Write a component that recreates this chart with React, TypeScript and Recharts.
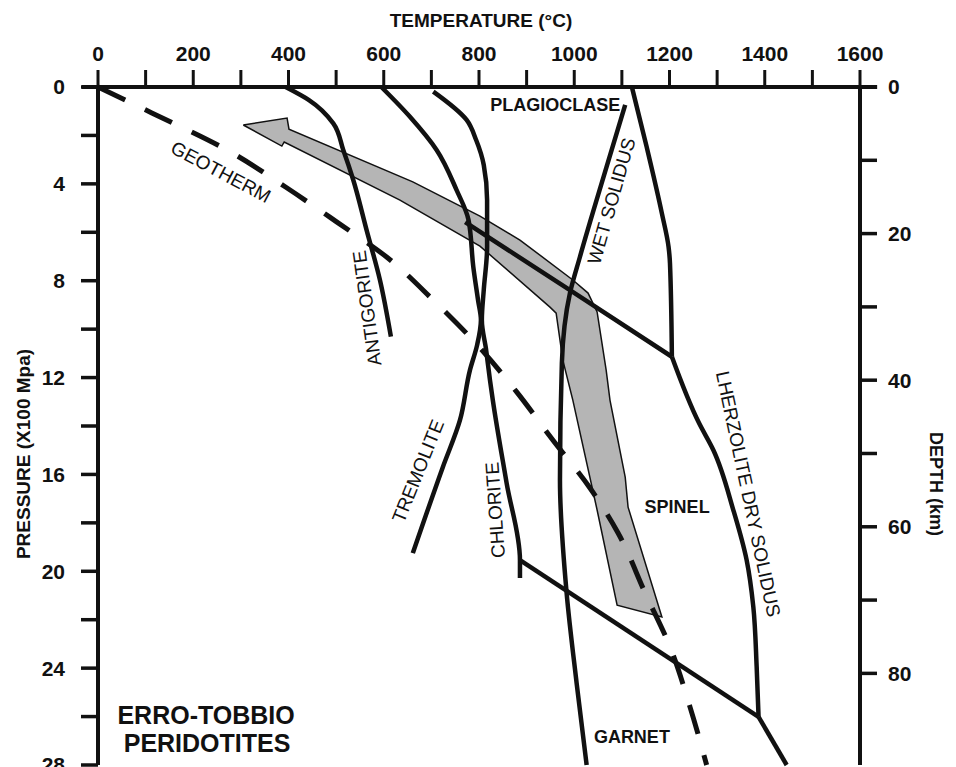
import React from 'react';
import { ReferenceLine, Scatter, ScatterChart, XAxis, YAxis } from 'recharts';

type Pt = { t: number; p: number };
type Note = { t: number; p: number; text: string; angle: number; kind: 'field' | 'line' | 'big' };

// axis ticks
const tempTicks = [0, 100, 200, 300, 400, 500, 600, 700, 800, 900, 1000, 1100, 1200, 1300, 1400, 1500, 1600];
const pressureTicks = [0, 2, 4, 6, 8, 10, 12, 14, 16, 18, 20, 22, 24, 26, 28];
const depthTicks = [0, 10, 20, 30, 40, 50, 60, 70, 80];

// temperature (°C) vs pressure (x100 MPa)
const geotherm: Pt[] = [
  { t: 0, p: 0 }, { t: 113, p: 1.07 }, { t: 277, p: 2.67 }, { t: 393, p: 4.12 },
  { t: 501, p: 5.57 }, { t: 606, p: 7.02 }, { t: 704, p: 8.8 }, { t: 787, p: 10.45 },
  { t: 879, p: 12.59 }, { t: 955, p: 14.58 }, { t: 1033, p: 16.56 }, { t: 1092, p: 18.42 },
  { t: 1149, p: 20.9 }, { t: 1201, p: 23.12 }, { t: 1243, p: 25.6 }, { t: 1278, p: 28 },
];

const antigorite: Pt[] = [
  { t: 394, p: 0 }, { t: 443, p: 0.54 }, { t: 494, p: 1.5 }, { t: 515, p: 2.6 },
  { t: 536, p: 3.84 }, { t: 564, p: 5.91 }, { t: 592, p: 7.97 }, { t: 615, p: 10.31 },
];

const tremolite: Pt[] = [
  { t: 595, p: 0 }, { t: 655, p: 1.23 }, { t: 711, p: 2.6 }, { t: 753, p: 4.26 },
  { t: 778, p: 5.49 }, { t: 788, p: 7.42 }, { t: 798, p: 8.8 }, { t: 804, p: 9.62 },
  { t: 796, p: 10.66 }, { t: 781, p: 11.69 }, { t: 760, p: 13.76 }, { t: 724, p: 15.7 },
  { t: 661, p: 19.25 },
];

const chlorite: Pt[] = [
  { t: 704, p: 0.19 }, { t: 774, p: 1.36 }, { t: 794, p: 2.19 }, { t: 810, p: 3.22 },
  { t: 817, p: 4.67 }, { t: 817, p: 6.61 }, { t: 810, p: 8.38 }, { t: 806, p: 9.62 },
  { t: 815, p: 10.86 }, { t: 823, p: 12.1 }, { t: 829, p: 12.93 }, { t: 858, p: 16.36 },
  { t: 886, p: 19.54 }, { t: 886, p: 20.28 },
];

const wetSolidus: Pt[] = [
  { t: 1107, p: 0.74 }, { t: 1068, p: 3.29 }, { t: 1012, p: 7.01 }, { t: 991, p: 8.51 },
  { t: 974, p: 11.4 }, { t: 970, p: 16.23 }, { t: 984, p: 20.9 }, { t: 1005, p: 24.62 },
  { t: 1026, p: 28 },
];

const drySolidusUpper: Pt[] = [
  { t: 1121, p: 0 }, { t: 1152, p: 2.47 }, { t: 1184, p: 5.22 }, { t: 1198, p: 6.6 },
  { t: 1201, p: 7.28 }, { t: 1205, p: 11.14 },
];

const drySolidusLower: Pt[] = [
  { t: 1205, p: 11.14 }, { t: 1262, p: 13.88 }, { t: 1292, p: 14.99 }, { t: 1334, p: 17.47 },
  { t: 1362, p: 19.54 }, { t: 1376, p: 21.47 }, { t: 1383, p: 23.94 }, { t: 1387, p: 26.01 },
];

const drySolidusTail: Pt[] = [
  { t: 1387, p: 26.01 }, { t: 1446, p: 28 },
];

const plagioclaseSpinel: Pt[] = [
  { t: 771, p: 5.58 }, { t: 991, p: 8.39 }, { t: 1205, p: 11.14 },
];

const spinelGarnet: Pt[] = [
  { t: 886, p: 19.54 }, { t: 1387, p: 26.01 },
];

// shaded P-T path arrow outline (closed)
const ptPath: Pt[] = [
  { t: 305, p: 1.57 }, { t: 397, p: 1.28 }, { t: 401, p: 1.74 }, { t: 661, p: 3.92 },
  { t: 802, p: 5.33 }, { t: 886, p: 6.32 }, { t: 997, p: 7.97 }, { t: 1029, p: 8.51 },
  { t: 1048, p: 9.29 }, { t: 1067, p: 11.69 }, { t: 1075, p: 12.93 }, { t: 1107, p: 16.11 },
  { t: 1113, p: 17.35 }, { t: 1184, p: 21.89 }, { t: 1090, p: 21.4 }, { t: 1048, p: 17.47 },
  { t: 997, p: 12.93 }, { t: 976, p: 11.28 }, { t: 962, p: 9.34 }, { t: 949, p: 9.09 },
  { t: 802, p: 6.57 }, { t: 634, p: 4.67 }, { t: 391, p: 2.27 }, { t: 386, p: 2.44 },
  { t: 305, p: 1.57 },
];

const notes: Note[] = [
  { t: 960, p: 0.74, text: 'PLAGIOCLASE', angle: 0, kind: 'field' },
  { t: 258, p: 3.51, text: 'GEOTHERM', angle: 28, kind: 'line' },
  { t: 565, p: 9.13, text: 'ANTIGORITE', angle: -98, kind: 'line' },
  { t: 672, p: 15.86, text: 'TREMOLITE', angle: -68, kind: 'line' },
  { t: 834, p: 17.47, text: 'CHLORITE', angle: -94, kind: 'line' },
  { t: 1078, p: 4.71, text: 'WET SOLIDUS', angle: -74, kind: 'line' },
  { t: 1365, p: 16.81, text: 'LHERZOLITE DRY SOLIDUS', angle: 78, kind: 'line' },
  { t: 1216, p: 17.35, text: 'SPINEL', angle: 0, kind: 'field' },
  { t: 1121, p: 26.85, text: 'GARNET', angle: 0, kind: 'field' },
  { t: 227, p: 25.94, text: 'ERRO-TOBBIO', angle: 0, kind: 'big' },
  { t: 229, p: 27.1, text: 'PERIDOTITES', angle: 0, kind: 'big' },
];

const FONT = "'Liberation Sans', Arial, Helvetica, sans-serif";
const INK = '#111';

const noteStyle = {
  field: { fontSize: 18, fontWeight: 700 },
  line: { fontSize: 19, fontWeight: 400 },
  big: { fontSize: 25, fontWeight: 700 },
};

const NoShape = () => <g />;

const NoteShape = (props: any) => {
  const { cx, cy, payload } = props;
  const s = noteStyle[payload.kind as Note['kind']];
  return (
    <text
      x={cx}
      y={cy}
      textAnchor="middle"
      dominantBaseline="central"
      transform={`rotate(${payload.angle} ${cx} ${cy})`}
      fill={INK}
      fontFamily={FONT}
      fontSize={s.fontSize}
      fontWeight={s.fontWeight}
    >
      {payload.text}
    </text>
  );
};

const TopTitle = (props: any) => {
  const vb = props.viewBox;
  return (
    <text x={vb.x + vb.width / 2 + 2} y={vb.y + 27} textAnchor="middle" fill={INK}
      fontFamily={FONT} fontSize={19} fontWeight={700}>
      TEMPERATURE (°C)
    </text>
  );
};

const LeftTitle = (props: any) => {
  const vb = props.viewBox;
  const x = vb.x + 23;
  const y = vb.y + vb.height / 2 + 28;
  return (
    <text x={x} y={y} textAnchor="middle" dominantBaseline="central" transform={`rotate(-90 ${x} ${y})`}
      fill={INK} fontFamily={FONT} fontSize={19} fontWeight={700}>
      PRESSURE (X100 Mpa)
    </text>
  );
};

const RightTitle = (props: any) => {
  const vb = props.viewBox;
  const x = vb.x + vb.width - 20;
  const y = vb.y + vb.height / 2 + 58;
  return (
    <text x={x} y={y} textAnchor="middle" dominantBaseline="central" transform={`rotate(90 ${x} ${y})`}
      fill={INK} fontFamily={FONT} fontSize={18} fontWeight={700}>
      DEPTH (km)
    </text>
  );
};

const solid = { stroke: INK, strokeWidth: 4.5, fill: 'none', strokeLinejoin: 'round' as const };

export default function App() {
  const tickStyle = { fill: INK, fontSize: 21, fontWeight: 700, fontFamily: FONT };
  return (
    <div style={{ position: 'absolute', left: 0, top: 0, width: 956, height: 767, background: '#fff' }}>
      <ScatterChart width={956} height={767} margin={{ top: 0, right: 0, bottom: 2, left: 0 }}>
        <XAxis
          xAxisId="t"
          orientation="top"
          type="number"
          dataKey="t"
          domain={[0, 1600]}
          ticks={tempTicks}
          interval={0}
          height={87}
          tickSize={17}
          tickMargin={9}
          tickFormatter={(v: number) => (v % 200 === 0 ? String(v) : '')}
          tick={tickStyle}
          axisLine={{ stroke: INK, strokeWidth: 4 }}
          tickLine={{ stroke: INK, strokeWidth: 3 }}
          label={{ content: TopTitle }}
        />
        <YAxis
          yAxisId="p"
          type="number"
          dataKey="p"
          domain={[0, 28]}
          reversed
          ticks={pressureTicks}
          interval={0}
          width={98}
          tickSize={17}
          tickMargin={16}
          tickFormatter={(v: number) => (v % 4 === 0 ? String(v) : '')}
          tick={tickStyle}
          axisLine={{ stroke: INK, strokeWidth: 4 }}
          tickLine={{ stroke: INK, strokeWidth: 3.5 }}
          label={{ content: LeftTitle }}
        />
        <YAxis
          yAxisId="d"
          orientation="right"
          type="number"
          domain={[0, 92.5]}
          allowDataOverflow
          reversed
          ticks={depthTicks}
          interval={0}
          width={96}
          tickSize={17}
          tickMargin={11}
          tickFormatter={(v: number) => (v % 20 === 0 ? String(v) : '')}
          tick={tickStyle}
          axisLine={{ stroke: INK, strokeWidth: 4 }}
          tickLine={{ stroke: INK, strokeWidth: 3.5 }}
          label={{ content: RightTitle }}
        />
        <ReferenceLine
          xAxisId="t"
          yAxisId="p"
          segment={[{ x: -34, y: 0 }, { x: 1636, y: 0 }]}
          stroke={INK}
          strokeWidth={4}
          ifOverflow="visible"
        />

        <Scatter xAxisId="t" yAxisId="p" data={ptPath} shape={NoShape} isAnimationActive={false}
          line={{ stroke: INK, strokeWidth: 1.5, fill: '#b5b5b5', strokeLinejoin: 'miter' }} lineJointType="linear" />

        <Scatter xAxisId="t" yAxisId="p" data={geotherm} shape={NoShape} isAnimationActive={false}
          line={{ stroke: INK, strokeWidth: 5, fill: 'none', strokeDasharray: '30 22' }} lineJointType="monotoneY" />
        <Scatter xAxisId="t" yAxisId="p" data={antigorite} shape={NoShape} isAnimationActive={false}
          line={solid} lineJointType="monotoneY" />
        <Scatter xAxisId="t" yAxisId="p" data={tremolite} shape={NoShape} isAnimationActive={false}
          line={solid} lineJointType="monotoneY" />
        <Scatter xAxisId="t" yAxisId="p" data={chlorite} shape={NoShape} isAnimationActive={false}
          line={solid} lineJointType="monotoneY" />
        <Scatter xAxisId="t" yAxisId="p" data={wetSolidus} shape={NoShape} isAnimationActive={false}
          line={solid} lineJointType="monotoneY" />
        <Scatter xAxisId="t" yAxisId="p" data={drySolidusUpper} shape={NoShape} isAnimationActive={false}
          line={solid} lineJointType="monotoneY" />
        <Scatter xAxisId="t" yAxisId="p" data={drySolidusLower} shape={NoShape} isAnimationActive={false}
          line={solid} lineJointType="monotoneY" />
        <Scatter xAxisId="t" yAxisId="p" data={drySolidusTail} shape={NoShape} isAnimationActive={false}
          line={solid} lineJointType="linear" />
        <Scatter xAxisId="t" yAxisId="p" data={plagioclaseSpinel} shape={NoShape} isAnimationActive={false}
          line={solid} lineJointType="linear" />
        <Scatter xAxisId="t" yAxisId="p" data={spinelGarnet} shape={NoShape} isAnimationActive={false}
          line={solid} lineJointType="linear" />

        <Scatter xAxisId="t" yAxisId="p" data={notes} shape={NoteShape} isAnimationActive={false} />
      </ScatterChart>
    </div>
  );
}
